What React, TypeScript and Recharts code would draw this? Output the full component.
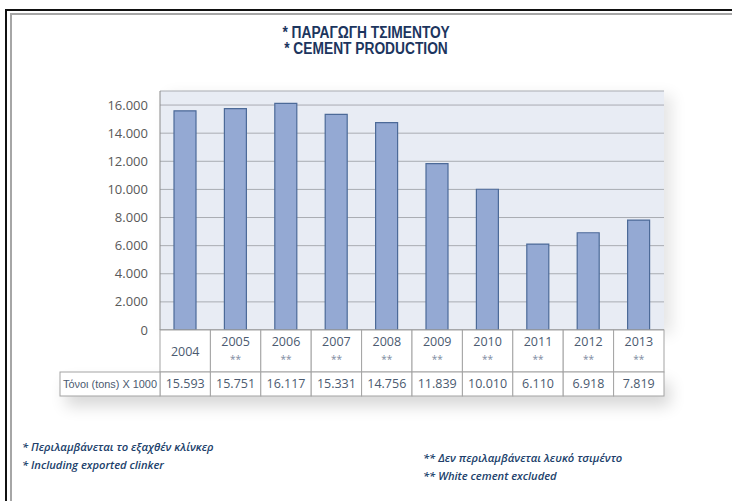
import React from "react";
import { BarChart, Bar, XAxis, YAxis, CartesianGrid } from "recharts";

const years = ["2004", "2005", "2006", "2007", "2008", "2009", "2010", "2011", "2012", "2013"];
const yearMarks = ["", "**", "**", "**", "**", "**", "**", "**", "**", "**"];
const production = [15593, 15751, 16117, 15331, 14756, 11839, 10010, 6110, 6918, 7819];
const yTicks = [0, 2000, 4000, 6000, 8000, 10000, 12000, 14000, 16000];
const rowLabel = "Τόνοι (tons) X 1000";

const data = years.map((year, i) => ({ year, mark: yearMarks[i], value: production[i] }));

const CHART_W = 732;
const CHART_H = 420;
const MARGIN = { top: 91, right: 68, bottom: 20, left: 60 };
const Y_AXIS_W = 100;
const PLOT_W = CHART_W - MARGIN.left - MARGIN.right - Y_AXIS_W;
const CELL_W = PLOT_W / years.length;
const HEAD_H = 42;
const ROW_H = 24;

const TEXT_FONT = "'Open Sans', 'Noto Sans', sans-serif";
const TABLE_TEXT = "#4b5a70";
const BORDER = "#a3a3a3";

const fmt = (v: number) => String(v).replace(/\B(?=(\d{3})+(?!\d))/g, ".");

const TableTick = (props: any) => {
  const { x, y, payload } = props;
  const i = payload.index;
  const row = data[i];
  const left = x - CELL_W / 2;
  return (
    <g fontFamily={TEXT_FONT} fontSize={12.5} fill={TABLE_TEXT}>
      <rect x={left} y={y} width={CELL_W} height={HEAD_H} fill="#fff" stroke={BORDER} />
      <rect x={left} y={y + HEAD_H} width={CELL_W} height={ROW_H} fill="#fff" stroke={BORDER} />
      {row.mark ? (
        <>
          <text x={x} y={y + 16} textAnchor="middle" fill={TABLE_TEXT}>{row.year}</text>
          <text x={x} y={y + 33} textAnchor="middle" fontSize={10} fill="#7d8aa0">{row.mark}</text>
        </>
      ) : (
        <text x={x} y={y + 26} textAnchor="middle" fill={TABLE_TEXT}>{row.year}</text>
      )}
      <text x={x} y={y + HEAD_H + 16} textAnchor="middle" fill={TABLE_TEXT}>
        {fmt(row.value)}
      </text>
      {i === 0 && (
        <g>
          <rect x={left - Y_AXIS_W} y={y + HEAD_H} width={Y_AXIS_W} height={ROW_H} fill="#fff" stroke={BORDER} />
          <text
            x={left - Y_AXIS_W + 3}
            y={y + HEAD_H + 16}
            fontFamily="'Liberation Sans', Arial, sans-serif"
            fontSize={11.5}
            textLength={94}
            lengthAdjust="spacingAndGlyphs"
            fill={TABLE_TEXT}
          >
            {rowLabel}
          </text>
        </g>
      )}
    </g>
  );
};

const abs = (s: React.CSSProperties): React.CSSProperties => ({ position: "absolute", ...s });

const noteStyle: React.CSSProperties = {
  fontFamily: TEXT_FONT,
  fontStyle: "italic",
  fontWeight: 600,
  fontSize: 11.2,
  color: "#213f6b",
  whiteSpace: "nowrap",
  lineHeight: "18px",
};

const titleStyle: React.CSSProperties = {
  fontFamily: "'Liberation Sans', Arial, sans-serif",
  fontWeight: 700,
  fontSize: 16,
  color: "#1c355e",
  textAlign: "center",
  lineHeight: "16px",
  transform: "scaleX(0.86)",
  transformOrigin: "366px 0",
};

export default function App() {
  return (
    <div style={abs({ left: 0, top: 0, width: 732, height: 501, background: "#fff", overflow: "hidden" })}>
      {/* frame */}
      <div style={abs({ left: 5, top: 9, width: 727, height: 2, background: "#111" })} />
      <div style={abs({ left: 5, top: 9, width: 2, height: 492, background: "#111" })} />
      <div style={abs({ left: 10, top: 13, width: 722, height: 2, background: "#a6a6a6" })} />
      <div style={abs({ left: 10, top: 13, width: 2, height: 488, background: "#a6a6a6" })} />

      {/* soft shadows behind plot and table */}
      <div style={abs({ left: 160, top: 91, width: 504, height: 239, boxShadow: "8px 4px 14px rgba(0,0,0,0.10)" })} />
      <div style={abs({ left: 60, top: 372, width: 604, height: 24, boxShadow: "6px 10px 16px rgba(0,0,0,0.16)" })} />

      <div style={abs({ left: 0, top: 25, width: 732, ...titleStyle })}>
        <div>* ΠΑΡΑΓΩΓΗ ΤΣΙΜΕΝΤΟΥ</div>
        <div>* CEMENT PRODUCTION</div>
      </div>

      <div style={abs({ left: 0, top: 0 })}>
        <BarChart width={CHART_W} height={CHART_H} data={data} margin={MARGIN} barSize={22}>
          <CartesianGrid vertical={false} stroke="#a9acb2" fill="#e8ecf4" />
          <XAxis
            dataKey="year"
            interval={0}
            tickLine={false}
            tickSize={0}
            tickMargin={0}
            height={70}
            axisLine={{ stroke: "#8a8a8a" }}
            tick={<TableTick />}
          />
          <YAxis
            width={Y_AXIS_W}
            domain={[0, 17000]}
            ticks={yTicks}
            tickFormatter={fmt}
            tickLine={false}
            tickSize={0}
            tickMargin={12}
            axisLine={{ stroke: "#8a8a8a" }}
            tick={{ fill: "#595959", fontSize: 13, fontFamily: TEXT_FONT }}
          />
          <Bar dataKey="value" fill="#94a9d3" stroke="#4c6a98" strokeWidth={1.2} isAnimationActive={false} />
        </BarChart>
      </div>

      <div style={abs({ left: 22, top: 438, ...noteStyle })}>
        <div>* Περιλαμβάνεται το εξαχθέν κλίνκερ</div>
        <div>* Including exported clinker</div>
      </div>
      <div style={abs({ left: 423, top: 449, ...noteStyle })}>
        <div>** Δεν περιλαμβάνεται λευκό τσιμέντο</div>
        <div>** White cement excluded</div>
      </div>
    </div>
  );
}
